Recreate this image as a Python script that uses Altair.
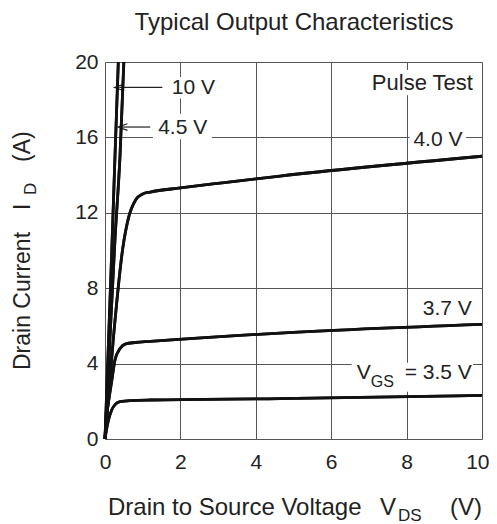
import altair as alt
import pandas as pd

# ---- curve data ----
vgs_labels = ["10 V", "4.5 V", "4.0 V", "3.7 V", "3.5 V"]
v10_v = [0, 0.09, 0.18, 0.265, 0.353]
v10_i = [0, 5, 10, 15, 20]
v45_v = [0, 0.13, 0.265, 0.4, 0.5]
v45_i = [0, 5.3, 10.6, 15.1, 20]
v40_v = [0, 0.22, 0.47, 0.62, 0.82, 1.0, 1.2, 2.0, 3.05, 4.64, 10.0]
v40_i = [0, 5.3, 10.1, 11.7, 12.7, 13.0, 13.1, 13.32, 13.58, 13.95, 15.0]
v37_v = [0, 0.05, 0.11, 0.18, 0.265, 0.4, 0.55, 0.8, 1.2, 4.64, 10.0]
v37_i = [0, 1.3, 2.2, 3.1, 4.2, 4.8, 5.05, 5.12, 5.18, 5.62, 6.08]
v35_v = [0, 0.04, 0.08, 0.18, 0.28, 0.4, 0.7, 1.2, 4.64, 10.0]
v35_i = [0, 0.5, 0.9, 1.55, 1.85, 1.98, 2.04, 2.07, 2.14, 2.31]

x_ticks = list(range(0, 11))
y_ticks = list(range(0, 21, 2))

FONT = "Liberation Sans"
TXT = "#222222"

rows = []
for name, vs, js in zip(vgs_labels, [v10_v, v45_v, v40_v, v37_v, v35_v],
                        [v10_i, v45_i, v40_i, v37_i, v35_i]):
    for k, (a, b) in enumerate(zip(vs, js)):
        rows.append({"series": name, "vds": a, "id": b, "k": k})
curves_df = pd.DataFrame(rows)

xs = alt.Scale(domain=[0, 10], nice=False, zero=False)
ys = alt.Scale(domain=[0, 20], nice=False, zero=False)

x_axis = alt.Axis(values=x_ticks, labelExpr="datum.value % 2 == 0 ? datum.label : ''",
                  grid=True, gridColor="#555555", gridWidth=1, domain=False, ticks=False,
                  labelFontSize=21, labelFont=FONT, labelColor=TXT, labelPadding=12,
                  labelFlush=False, labelOverlap=False, title=None,
                  labelAlign={"condition": {"test": "datum.value == 10", "value": "right"},
                              "value": "center"},
                  labelOffset={"condition": {"test": "datum.value == 10", "value": 7},
                               "value": 0})
y_axis = alt.Axis(values=y_ticks, labelExpr="datum.value % 4 == 0 ? datum.label : ''",
                  grid=True, gridColor="#555555", gridWidth=1, domain=False, ticks=False,
                  labelFontSize=21, labelFont=FONT, labelColor=TXT, labelPadding=7,
                  labelFlush=False, labelOverlap=False, title=None)

curves = alt.Chart(curves_df).mark_line(color="#111111", strokeWidth=2.8,
                                         interpolate="monotone").encode(
    x=alt.X("vds:Q", scale=xs, axis=x_axis),
    y=alt.Y("id:Q", scale=ys, axis=y_axis),
    detail="series:N",
    order="k:Q",
)

# white boxes behind in-plot labels
box_df = pd.DataFrame({
    "x": [1.62, 1.27, 6.92, 8.08, 8.33, 6.54],
    "x2": [2.94, 2.84, 9.89, 9.58, 9.84, 9.76],
    "y": [18.07, 15.9, 18.24, 15.23, 6.3, 2.51],
    "y2": [19.2, 17.25, 19.57, 16.5, 7.5, 4.04],
})
boxes = alt.Chart(box_df).mark_rect(color="white").encode(
    x=alt.X("x:Q", scale=xs), x2="x2:Q", y=alt.Y("y:Q", scale=ys), y2="y2:Q")

# arrows
arrow_df = pd.DataFrame({"x": [0.38, 0.47], "x2": [1.52, 1.2], "y": [18.65, 16.55]})
arrows = alt.Chart(arrow_df).mark_rule(color="#222222", strokeWidth=1.2).encode(
    x=alt.X("x:Q", scale=xs), x2="x2:Q", y=alt.Y("y:Q", scale=ys))
heads = alt.Chart(arrow_df).mark_point(shape="M1,-0.7L-1,0L1,0.7", filled=False,
                                       size=90, color="#222222", strokeWidth=1.2,
                                       opacity=1).encode(
    x=alt.X("x:Q", scale=xs), y=alt.Y("y:Q", scale=ys))

# labels
lab_df = pd.DataFrame({
    "t": ["10 V", "4.5 V", "Pulse Test", "4.0 V", "3.7 V"],
    "x": [1.77, 1.41, 9.76, 8.83, 9.08],
    "y": [18.6, 16.5, 18.9, 15.86, 6.9],
    "a": ["left", "left", "right", "center", "center"],
    "s": [21, 21, 22, 21, 21],
})


def lab_layer(al):
    return alt.Chart(lab_df[lab_df.a == al]).mark_text(
        font=FONT, color=TXT, baseline="middle", align=al).encode(
        x=alt.X("x:Q", scale=xs), y=alt.Y("y:Q", scale=ys), text="t:N",
        size=alt.Size("s:Q", scale=None, legend=None))


lab_left = lab_layer("left")
lab_right = lab_layer("right")
lab_center = lab_layer("center")

# V_GS = 3.5 V (with subscript)
vgs_main = pd.DataFrame({"t": ["V", "= 3.5 V"], "x": [6.68, 7.95], "y": [3.5, 3.5]})
vgs_sub = pd.DataFrame({"t": ["GS"], "x": [7.05], "y": [3.04]})
vgs1 = alt.Chart(vgs_main).mark_text(font=FONT, fontSize=21, color=TXT,
                                      baseline="middle", align="left").encode(
    x=alt.X("x:Q", scale=xs), y=alt.Y("y:Q", scale=ys), text="t:N")
vgs2 = alt.Chart(vgs_sub).mark_text(font=FONT, fontSize=16, color=TXT,
                                     baseline="middle", align="left").encode(
    x=alt.X("x:Q", scale=xs), y=alt.Y("y:Q", scale=ys), text="t:N")


# chart title and axis titles (outside the plot, pixel-placed text)
def ptext(t, x, y, size=22, align="left", baseline="alphabetic", angle=0):
    return alt.Chart(pd.DataFrame({"t": [t]})).mark_text(
        font=FONT, fontSize=size, color=TXT, align=align, baseline=baseline,
        angle=angle).encode(x=alt.value(x), y=alt.value(y), text="t:N")


title = ptext("Typical Output Characteristics", 189, -32, size=24, align="center")
xt1 = ptext("Drain to Source Voltage", 3, 453, size=24)
xt2 = ptext("V", 275, 453, size=24)
xt3 = ptext("DS", 293, 459, size=17)
xt4 = ptext("(V)", 377, 453, size=24, align="right")
yt1 = ptext("Drain Current", -75, 308, size=23, angle=270)
yt2 = ptext("I", -75, 148, size=23, angle=270)
yt3 = ptext("D", -69, 133, size=17, angle=270)
yt4 = ptext("(A)", -75, 100, size=23, angle=270)

chart = alt.layer(
    curves, boxes, arrows, heads, curves, lab_left, lab_right, lab_center, vgs1, vgs2,
    title, xt1, xt2, xt3, xt4, yt1, yt2, yt3, yt4
).properties(
    width=377, height=377,
    autosize=alt.AutoSizeParams(type="none"),
    padding={"left": 97, "top": 54, "right": 7, "bottom": 85},
).configure_view(stroke="#111111", strokeWidth=2.6, fill="white").configure(
    background="white")

chart.save("out.html", embed_options={"renderer": "svg", "actions": False})
